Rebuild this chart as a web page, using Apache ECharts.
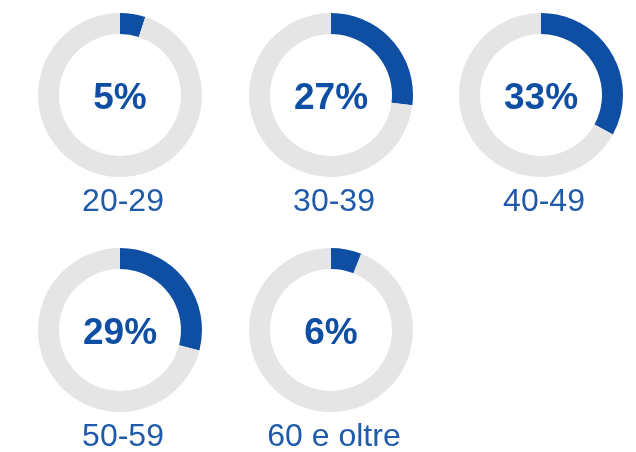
<!DOCTYPE html>
<html>
<head>
<meta charset="utf-8">
<script src="https://cdn.jsdelivr.net/npm/echarts@6/dist/echarts.min.js"></script>
<style>
  html, body { margin: 0; padding: 0; background: #fff; }
  #chart { width: 636px; height: 452px; }
</style>
</head>
<body>
<div id="chart"></div>
<script>
// fasce d'età e percentuali
const categories = ['20-29', '30-39', '40-49', '50-59', '60 e oltre']
const values = [5, 27, 33, 29, 6]

// posizione di ogni ciambella
const centers = [[120, 95], [331, 95], [541, 95], [120, 330], [331, 330]]

const blue = '#0e4ea3'
const grey = '#e5e5e5'

let myCharts = echarts.init(document.getElementById('chart'))

myCharts.setOption({
  animation: false,
  // etichette sotto le ciambelle
  title: categories.map((c, i) => ({
    text: c,
    left: centers[i][0] - 2,
    top: centers[i][1] + 86,
    textAlign: 'center',
    textStyle: {
      color: '#1f5aab',
      fontSize: 32,
      fontWeight: 'normal',
      fontFamily: 'Liberation Sans',
      lineHeight: 32,
    },
  })),
  series: values.map((v, i) => ({
    type: 'pie',
    center: centers[i],
    radius: [61, 82],
    startAngle: 90,
    clockwise: true,
    silent: true,
    labelLine: { show: false },
    labelLayout: { dy: 4 },
    data: [
      {
        value: v,
        itemStyle: { color: blue },
        label: {
          show: true,
          position: 'center',
          formatter: v + '%',
          color: blue,
          fontSize: 37,
          fontWeight: 'bold',
          fontFamily: 'Liberation Sans',
        },
      },
      {
        value: 100 - v,
        itemStyle: { color: grey },
        label: { show: false },
      },
    ],
  })),
})
</script>
</body>
</html>
